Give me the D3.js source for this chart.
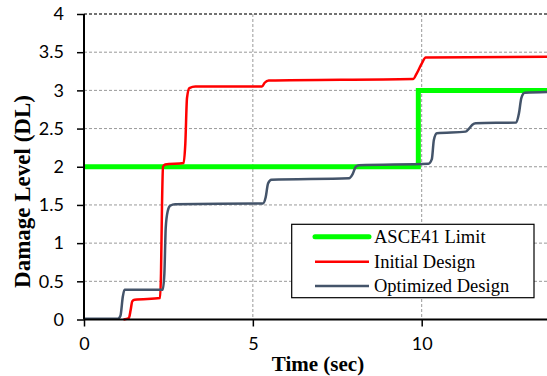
<!DOCTYPE html>
<html>
<head>
<meta charset="utf-8">
<script src="https://cdn.jsdelivr.net/npm/d3@7"></script>
<style>
  body { margin: 0; background: #fff; }
  svg { display: block; }
</style>
</head>
<body>
<div id="chart"></div>
<script>
// series data (time in sec, damage level)
const limitT = [0, 9.9, 9.9, 14];
const limitV = [2.0, 2.0, 3.0, 3.0];

const initialT = [1.17, 1.33, 1.38, 1.43, 1.5, 2.25, 2.28, 2.31, 2.34, 2.4, 2.95, 3.0, 3.05, 3.12, 3.3,
  5.27, 5.35, 5.47, 9.75, 9.85, 10.0, 10.12, 14];
const initialV = [0.0, 0.02, 0.12, 0.24, 0.26, 0.28, 0.6, 1.5, 2.0, 2.03, 2.05, 2.3, 2.9, 3.03, 3.05,
  3.05, 3.1, 3.13, 3.15, 3.22, 3.35, 3.43, 3.44];

const optimT = [0, 1.0, 1.08, 1.15, 1.2, 2.33, 2.38, 2.42, 2.48, 2.55, 2.7, 5.3, 5.38, 5.45, 5.55,
  7.85, 7.95, 8.05, 8.15, 10.2, 10.3, 10.36, 10.45, 11.3, 11.4, 11.5, 11.6, 12.8, 12.88, 12.95, 13.05, 14];
const optimV = [0.01, 0.01, 0.05, 0.3, 0.39, 0.39, 0.6, 1.2, 1.42, 1.49, 1.51, 1.52, 1.6, 1.78, 1.83,
  1.85, 1.9, 2.0, 2.02, 2.04, 2.1, 2.35, 2.44, 2.46, 2.5, 2.55, 2.57, 2.58, 2.7, 2.9, 2.97, 2.98];

const yTicks = [0, 0.5, 1, 1.5, 2, 2.5, 3, 3.5, 4];
const yTickLabels = ['0', '0.5', '1', '1.5', '2', '2.5', '3', '3.5', '4'];
const xTicks = [0, 5, 10];
const xTickLabels = ['0', '5', '10'];
const seriesNames = ['ASCE41 Limit', 'Initial Design', 'Optimized Design'];

const W = 547, H = 376;
const svg = d3.select('#chart').append('svg')
  .attr('width', W).attr('height', H);

const x = d3.scaleLinear().domain([0, 14]).range([84, 84 + 14 * 33.77]);
const y = d3.scaleLinear().domain([0, 4]).range([319.5, 14]);

// horizontal grid
svg.append('g').selectAll('line')
  .data(yTicks.filter(d => d > 0))
  .join('line')
  .attr('x1', x(0)).attr('x2', W)
  .attr('y1', d => y(d)).attr('y2', d => y(d))
  .attr('stroke', d => d === 4 ? '#444' : '#999')
  .attr('stroke-width', d => d === 4 ? 1.6 : 1)
  .attr('stroke-dasharray', '3,2');

// vertical grid
svg.append('g').selectAll('line')
  .data(xTicks.filter(d => d > 0))
  .join('line')
  .attr('x1', d => x(d)).attr('x2', d => x(d))
  .attr('y1', y(4)).attr('y2', y(0))
  .attr('stroke', '#999')
  .attr('stroke-width', 1)
  .attr('stroke-dasharray', '3,2');

// series
const mk = (ts, vs) => ts.map((t, i) => [t, vs[i]]);
const line = d3.line().x(d => x(d[0])).y(d => y(d[1]));
const smooth = d3.line().x(d => x(d[0])).y(d => y(d[1])).curve(d3.curveMonotoneX);

svg.append('path').datum(mk(limitT, limitV))
  .attr('d', line).attr('fill', 'none')
  .attr('stroke', '#00ff00').attr('stroke-width', 5);

svg.append('path').datum(mk(initialT, initialV))
  .attr('d', smooth).attr('fill', 'none')
  .attr('stroke', '#ff0000').attr('stroke-width', 2.5);

svg.append('path').datum(mk(optimT, optimV))
  .attr('d', smooth).attr('fill', 'none')
  .attr('stroke', '#44546a').attr('stroke-width', 2.5);

// axes
const axisX = d3.axisBottom(x).tickValues(xTicks).tickFormat((d, i) => xTickLabels[i])
  .tickSize(7).tickPadding(11);
const gx = svg.append('g').attr('transform', `translate(0,${y(0)})`).call(axisX);
gx.select('.domain').attr('d', `M${x(0)},0H${W}`).attr('stroke', '#000').attr('stroke-width', 2);
gx.selectAll('.tick line').attr('stroke', '#000').attr('stroke-width', 1.5);
gx.selectAll('text').attr('font-family', 'Lato, sans-serif').attr('font-size', 18).attr('fill', '#000');

const axisY = d3.axisLeft(y).tickValues(yTicks).tickFormat((d, i) => yTickLabels[i])
  .tickSize(7).tickPadding(13);
const gy = svg.append('g').attr('transform', `translate(${x(0)},0)`).call(axisY);
gy.select('.domain').attr('d', `M0,${y(0)}V${y(4)}`).attr('stroke', '#000').attr('stroke-width', 2);
gy.selectAll('.tick line').attr('stroke', '#000').attr('stroke-width', 1.5);
gy.selectAll('text').attr('font-family', 'Lato, sans-serif').attr('font-size', 18).attr('fill', '#000');

// axis titles
svg.append('text')
  .attr('x', 318).attr('y', 371)
  .attr('text-anchor', 'middle')
  .attr('font-family', '"Liberation Serif", "Times New Roman", serif')
  .attr('font-weight', 'bold').attr('font-size', 21)
  .text('Time (sec)');

svg.append('text')
  .attr('transform', 'translate(30,191.5) rotate(-90)')
  .attr('text-anchor', 'middle')
  .attr('font-family', '"Liberation Serif", "Times New Roman", serif')
  .attr('font-weight', 'bold').attr('font-size', 23)
  .text('Damage Level (DL)');

// legend
const leg = svg.append('g');
leg.append('rect')
  .attr('x', 291.7).attr('y', 224.3).attr('width', 242.3).attr('height', 73.4)
  .attr('fill', '#fff').attr('stroke', '#000').attr('stroke-width', 1.2);
const legColors = ['#00ff00', '#ff0000', '#44546a'];
const legWidths = [5, 2.5, 2.5];
const rows = leg.selectAll('g.row').data(seriesNames).join('g')
  .attr('class', 'row')
  .attr('transform', (d, i) => `translate(0,${[236.7, 261.7, 286][i]})`);
rows.append('line')
  .attr('x1', 315).attr('x2', 369).attr('y1', 0).attr('y2', 0)
  .attr('stroke', (d, i) => legColors[i])
  .attr('stroke-width', (d, i) => legWidths[i])
  .attr('stroke-linecap', (d, i) => i === 0 ? 'round' : 'butt');
rows.append('text')
  .attr('x', 374).attr('y', 0).attr('dy', '0.35em')
  .attr('font-family', '"Liberation Serif", "Times New Roman", serif')
  .attr('font-size', 18.5)
  .text(d => d);
</script>
</body>
</html>
